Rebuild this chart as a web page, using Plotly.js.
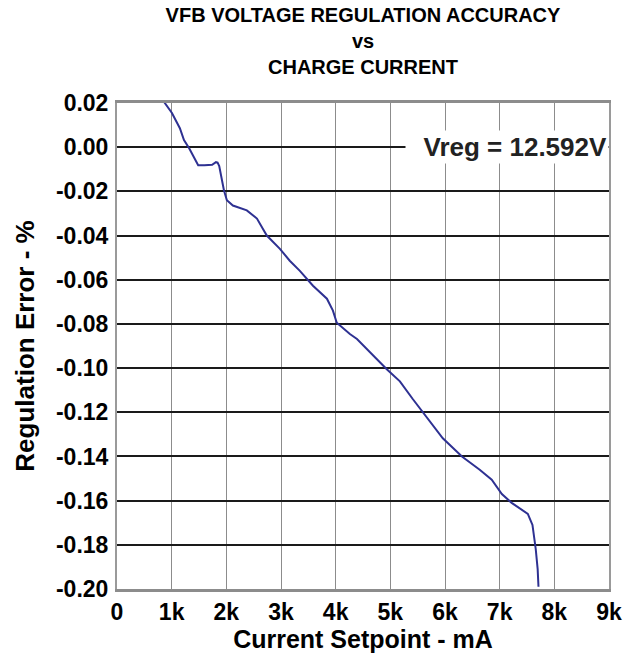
<!DOCTYPE html>
<html>
<head>
<meta charset="utf-8">
<script src="https://cdn.plot.ly/plotly-3.0.1.min.js"></script>
<style>html,body{margin:0;padding:0;background:#fff;}#chart{width:626px;height:660px;}</style>
</head>
<body>
<div id="chart"></div>
<script>
// Current setpoint (mA)
const currentSetpoint = [860, 1005, 1150, 1225, 1320, 1485, 1600, 1740, 1810, 1840, 1870, 1900, 1956, 2010, 2120, 2375, 2560, 2740, 2980, 3160, 3345, 3585, 3840, 3950, 4020, 4260, 4390, 4935, 5175, 5410, 5575, 5960, 6310, 6635, 6855, 7040, 7220, 7370, 7515, 7600, 7660, 7695, 7710];
// Regulation error (%)
const regulationError = [0.0205, 0.0155, 0.0086, 0.0032, -0.0005, -0.0082, -0.0082, -0.0080, -0.0068, -0.0070, -0.0085, -0.0120, -0.0195, -0.0240, -0.0264, -0.0286, -0.0323, -0.0400, -0.0460, -0.0514, -0.0560, -0.0627, -0.0686, -0.0740, -0.0795, -0.0846, -0.0868, -0.1005, -0.1060, -0.1140, -0.1195, -0.1318, -0.1400, -0.1460, -0.1505, -0.1570, -0.1610, -0.1636, -0.1660, -0.1710, -0.1820, -0.1910, -0.1990];

const xTickVals = [0, 1000, 2000, 3000, 4000, 5000, 6000, 7000, 8000, 9000];
const xTickText = ["0", "1k", "2k", "3k", "4k", "5k", "6k", "7k", "8k", "9k"];
const yTickVals = [0.02, 0.00, -0.02, -0.04, -0.06, -0.08, -0.10, -0.12, -0.14, -0.16, -0.18, -0.20];
const yTickText = ["0.02", "0.00", "-0.02", "-0.04", "-0.06", "-0.08", "-0.10", "-0.12", "-0.14", "-0.16", "-0.18", "-0.20"];

const FONT = '"Liberation Sans", Arial, sans-serif';

const trace = {
  x: currentSetpoint,
  y: regulationError,
  type: 'scatter',
  mode: 'lines',
  line: {color: '#2E3192', width: 2},
  hoverinfo: 'skip'
};

const layout = {
  width: 626,
  height: 660,
  margin: {l: 117, r: 17, t: 103, b: 71},
  paper_bgcolor: '#fff',
  plot_bgcolor: '#fff',
  showlegend: false,
  font: {family: FONT, color: '#000'},
  title: {
    text: '<b>VFB VOLTAGE REGULATION ACCURACY<br>vs<br>CHARGE CURRENT</b>',
    font: {family: FONT, size: 20, color: '#000'},
    x: 0.5, xanchor: 'center', xref: 'paper',
    y: 1, yanchor: 'bottom', yref: 'paper',
    pad: {b: 81}
  },
  xaxis: {
    range: [0, 9000],
    tickvals: xTickVals,
    ticktext: xTickText,
    tickfont: {family: FONT, size: 23, color: '#000', weight: 'bold'},
    showgrid: true, gridcolor: '#8c8c8c', gridwidth: 1,
    zeroline: false,
    showline: true, linecolor: '#8c8c8c', linewidth: 3, mirror: true,
    ticks: '',
    title: {text: '<b>Current Setpoint - mA</b>', font: {family: FONT, size: 25, color: '#000'}, standoff: 4},
    fixedrange: true
  },
  yaxis: {
    range: [-0.20, 0.02],
    tickvals: yTickVals,
    ticktext: yTickText,
    tickfont: {family: FONT, size: 23, color: '#000', weight: 'bold'},
    showgrid: true, gridcolor: '#1a1a1a', gridwidth: 2,
    zeroline: false,
    showline: true, linecolor: '#9a9a9a', linewidth: 2, mirror: true,
    ticks: '',
    ticklabelstandoff: 2,
    title: {text: '<b>Regulation Error - %</b>', font: {family: FONT, size: 26, color: '#000'}, standoff: 14},
    fixedrange: true
  },
  annotations: [{
    x: 9000, y: 0, xref: 'x', yref: 'y',
    xanchor: 'right', yanchor: 'middle',
    text: '<b>Vreg = 12.592V</b>',
    font: {family: FONT, size: 26, color: '#222'},
    showarrow: false,
    bgcolor: '#fff',
    borderpad: 1,
    width: 200,
    align: 'right'
  }]
};

Plotly.newPlot('chart', [trace], layout, {displayModeBar: false, staticPlot: true});
</script>
</body>
</html>
